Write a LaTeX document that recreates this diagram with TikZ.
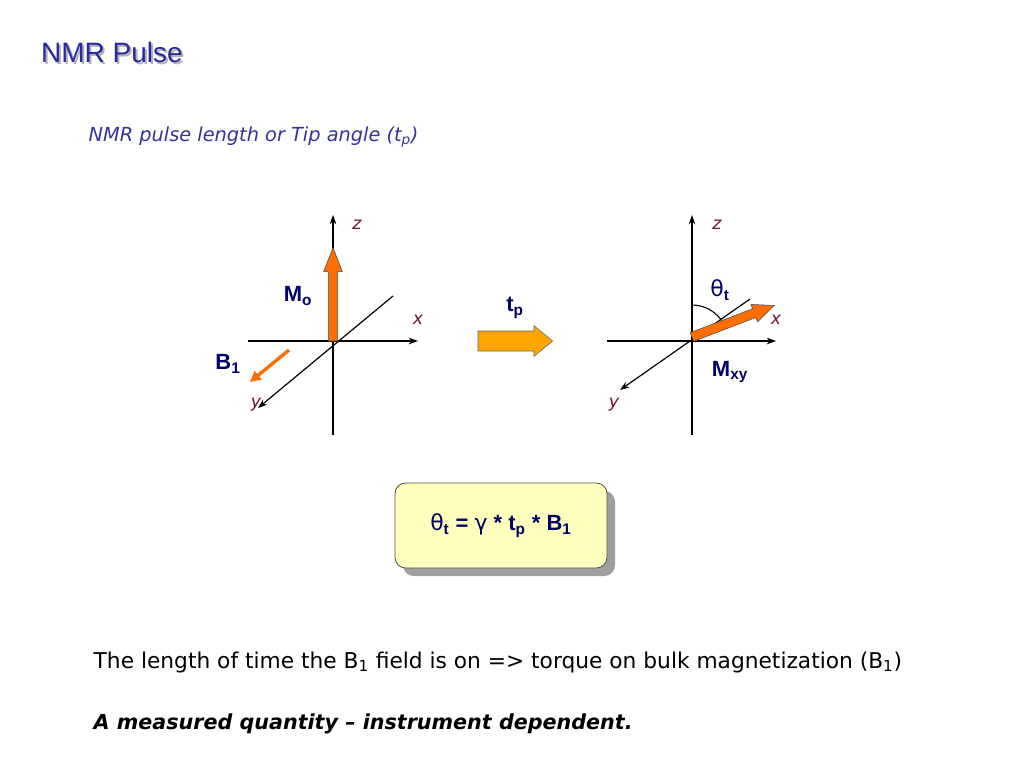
\documentclass[tikz,border=0pt]{standalone}
\usepackage{fontspec}
\setmainfont{Liberation Sans}
\newfontfamily\dv{DejaVu Sans}
\usetikzlibrary{arrows.meta}
\definecolor{navy}{RGB}{0,0,102}
\definecolor{ttl}{RGB}{40,40,160}
\definecolor{sub}{RGB}{51,51,153}
\definecolor{axl}{RGB}{110,20,50}
\definecolor{org}{RGB}{255,110,0}
\definecolor{lorg}{RGB}{255,165,0}
\definecolor{boxy}{RGB}{255,255,190}
\tikzset{
 axis/.style={line width=0.9pt,-{Stealth[length=7pt,width=5pt]}},
 axlab/.style={text=axl,font=\dv\itshape\fontsize{13}{15}\selectfont},
 blab/.style={text=navy,font=\bfseries\fontsize{16.5}{19}\selectfont},
 fatarrow/.style={draw=black!70,line width=0.4pt,fill=org},
}
% #2 origin, #3 angle, #4 length(pt), #5 shaft half, #6 head half, #7 head length
\newcommand\myfat[7][fatarrow]{%
 \begin{scope}[shift={(#2)},rotate=#3,x=1pt,y=1pt]
 \draw[#1] (0,-#5) -- ({#4-#7},-#5) -- ({#4-#7},-#6) -- (#4,0) -- ({#4-#7},#6) -- ({#4-#7},#5) -- (0,#5) -- cycle;
 \end{scope}}
\begin{document}
\begin{tikzpicture}[x=0.75pt,y=-0.75pt]
\useasboundingbox[fill=white] (0,0) rectangle (1024,768);
\node[text=gray!60,font=\fontsize{21}{24}\selectfont] at (114,54) {NMR Pulse};
\node (title) [text=ttl,font=\fontsize{21}{24}\selectfont] at (112,52) {NMR Pulse};
\node (sub) [anchor=west,text=sub,font=\dv\itshape\fontsize{14.5}{18}\selectfont] at (84,137) {NMR pulse length or Tip angle (t\textsubscript{p})};
% left
\coordinate (o1) at (333,341);
\coordinate (zb1) at (333,435); \coordinate (zt1) at (333,215);
\coordinate (xl1) at (248,341); \coordinate (xr1) at (418,341);
\coordinate (d1) at (393,296); \coordinate (y1) at (258,408);
\draw[axis] (zb1) -- (zt1);
\draw[axis] (xl1) -- (xr1);
\draw[axis] (d1) -- (y1);
\myfat{o1}{90}{70}{3.5}{7}{18}
\draw[org,line width=2.5pt,-{Triangle[length=8pt,width=8pt]}] (289,350) coordinate(b1s) -- (250,382) coordinate(b1e);
\node[axlab] at (357,225) {z};
\node[axlab] at (418,320) {x};
\node[axlab] at (256,405) {y};
\node[blab] at (298,296) {M\textsubscript{o}};
\node[blab] at (228,364) {B\textsubscript{1}};
% middle arrow
\coordinate (mid) at (478,341);
\myfat[draw=black!60,line width=0.4pt,fill=lorg]{mid}{0}{56}{7.5}{11.5}{14}
\node[blab] at (515,308) {t\textsubscript{p}};
% right
\coordinate (o2) at (692,341);
\coordinate (zb2) at (692,435); \coordinate (zt2) at (692,215);
\coordinate (xl2) at (607,341); \coordinate (xr2) at (776,341);
\coordinate (d2) at (750,299); \coordinate (y2) at (620,390);
\draw[axis] (zb2) -- (zt2);
\draw[axis] (xl2) -- (xr2);
\draw[axis] (d2) -- (y2);
\draw[line width=0.8pt] (692,305) arc[start angle=90,end angle=30,radius=36*0.75pt];
\coordinate (o2b) at (692,337);
\myfat{o2b}{21}{66}{3.5}{7}{16}
\node[axlab] at (717,225) {z};
\node[axlab] at (776,320) {x};
\node[axlab] at (614,405) {y};
\node[blab] at (720,290) {{\dv\mdseries θ}\textsubscript{t}};
\node[blab] at (730,372) {M\textsubscript{xy}};
% box
\fill[gray!75,rounded corners=8pt] (403,491) rectangle (615,576);
\node (box) [draw=black!70,line width=0.6pt,fill=boxy,rounded corners=8pt,minimum width=212*0.75pt,minimum height=85*0.75pt,blab,text=navy] at (501,525.5) {{\dv\mdseries θ}\textsubscript{t} = {\dv\mdseries γ} * t\textsubscript{p} * B\textsubscript{1}};
\node (l1) [anchor=west,font=\dv\fontsize{16.3}{19}\selectfont] at (89,662) {The length of time the B\textsubscript{1} field is on => torque on bulk magnetization (B\textsubscript{1})};
\node (l2) [anchor=west,font=\dv\bfseries\itshape\fontsize{15.5}{19}\selectfont] at (89,724) {A measured quantity – instrument dependent.};
\end{tikzpicture}
\end{document}
